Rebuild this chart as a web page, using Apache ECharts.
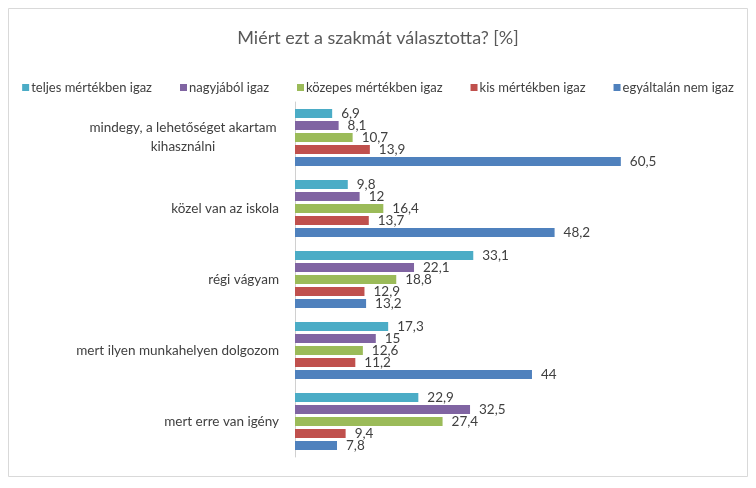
<!DOCTYPE html>
<html>
<head>
<meta charset="utf-8">
<script src="https://cdn.jsdelivr.net/npm/echarts@6/dist/echarts.min.js"></script>
<style>
html,body{margin:0;padding:0;background:#fff;}
#chart{width:756px;height:488px;}
</style>
</head>
<body>
<div id="chart"></div>
<script>
const categories = [
  "mindegy, a lehetőséget akartam\nkihasználni",
  "közel van az iskola",
  "régi vágyam",
  "mert ilyen munkahelyen dolgozom",
  "mert erre van igény"
];
const seriesNames = [
  "teljes mértékben igaz",
  "nagyjából igaz",
  "közepes mértékben igaz",
  "kis mértékben igaz",
  "egyáltalán nem igaz"
];
const teljes = [6.9, 9.8, 33.1, 17.3, 22.9];
const nagyjabol = [8.1, 12, 22.1, 15, 32.5];
const kozepes = [10.7, 16.4, 18.8, 12.6, 27.4];
const kis = [13.9, 13.7, 12.9, 11.2, 9.4];
const egyaltalan = [60.5, 48.2, 13.2, 44, 7.8];
const seriesValues = [teljes, nagyjabol, kozepes, kis, egyaltalan];
const colors = ["#4BACC6", "#8064A2", "#9BBB59", "#C0504D", "#4F81BD"];

const FONT = "Lato";
const chart = echarts.init(document.getElementById('chart'), null, {renderer: 'canvas'});

const series = seriesNames.map((name, i) => ({
  name: name,
  type: 'bar',
  data: seriesValues[i],
  barWidth: 9,
  barGap: '33%',
  itemStyle: {color: colors[i]},
  label: {
    show: true,
    position: 'right',
    distance: 9,
    color: '#404040',
    fontFamily: FONT,
    fontSize: 13.5,
    formatter: p => String(p.value).replace('.', ',')
  }
}));

chart.setOption({
  animation: false,
  backgroundColor: '#fff',
  color: colors,
  graphic: [{
    type: 'rect',
    shape: {x: 8.5, y: 8.5, width: 739, height: 468},
    style: {fill: 'none', stroke: '#d9d9d9', lineWidth: 1},
    silent: true,
    z: -1
  }],
  title: {
    text: 'Miért ezt a szakmát választotta? [%]',
    left: 'center',
    top: 24,
    textStyle: {fontFamily: FONT, fontSize: 18, fontWeight: 'normal', color: '#595959'}
  },
  legend: {
    top: 76,
    left: 'center',
    itemWidth: 7,
    itemHeight: 7,
    itemGap: 28,
    icon: 'rect',
    textStyle: {fontFamily: FONT, fontSize: 13, color: '#404040', padding: [0, 0, 0, -3]},
    data: seriesNames
  },
  grid: {left: 295, top: 102, width: 377, height: 355, containLabel: false},
  xAxis: {
    type: 'value',
    min: 0,
    max: 70,
    show: false
  },
  yAxis: {
    type: 'category',
    inverse: true,
    data: categories,
    axisLine: {show: true, lineStyle: {color: '#d0d0d0'}},
    axisTick: {show: false},
    axisLabel: {
      color: '#404040',
      fontFamily: FONT,
      fontSize: 13.5,
      margin: 16,
      align: 'right',
      formatter: v => {
        const parts = v.split('\n');
        if (parts.length > 1) {
          return parts.map(p => '{c|' + p + '}').join('\n');
        }
        return v;
      },
      rich: {
        c: {width: 192, align: 'center', fontFamily: FONT, fontSize: 13.5, color: '#404040', lineHeight: 19}
      }
    }
  },
  series: series
});
</script>
</body>
</html>
